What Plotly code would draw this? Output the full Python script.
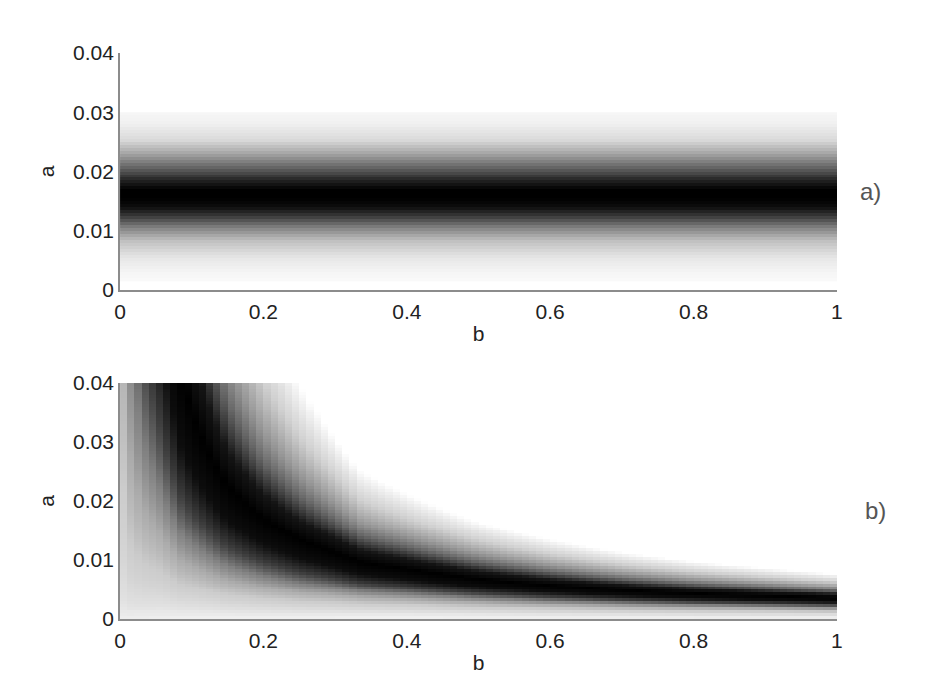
'''
    Two grayscale maps over (b, a): a flat band (a) and a curved ridge (b).
'''
import numpy as np
import plotly.graph_objects as go

# Panel a) : darkness (0 = white, 1 = black) read along a, same for every b
top_a = [0.0015, 0.003, 0.0056, 0.0084, 0.0106, 0.0123, 0.014, 0.0155,
         0.0169, 0.0186, 0.0208, 0.0231, 0.0253, 0.028, 0.030]
top_dark = [0.02, 0.04, 0.1, 0.25, 0.5, 0.75, 0.95, 1.0,
            1.0, 0.85, 0.6, 0.35, 0.15, 0.06, 0.03]

# Panel b) : ridge position (a) and relative spread read for some b values
ridge_b = [0.005, 0.015, 0.03, 0.055, 0.085, 0.1, 0.15, 0.2, 0.25, 0.3, 0.335,
           0.4, 0.5, 0.6, 0.7, 0.8, 0.9, 1.0]
ridge_a = [0.6, 0.22, 0.12, 0.073, 0.042, 0.035, 0.0225, 0.017, 0.0136, 0.0113,
           0.0097, 0.0085, 0.0068, 0.0057, 0.0049, 0.0043, 0.0039, 0.0035]
ridge_w = [3.0, 2.6, 2.3, 2.0, 1.8, 1.7, 1.55, 1.45, 1.38, 1.28, 1.22,
           1.17, 1.13, 1.1, 1.07, 1.05, 1.02, 1.0]

# cross section of the ridge: log(a / ridge_a) / ridge_w -> darkness
prof_off = [-3.0, -2.0, -1.5, -1.1, -0.8, -0.59, -0.4, -0.2, 0.0,
            0.15, 0.31, 0.42, 0.51, 0.6, 0.67, 0.74, 0.78]
prof_dark = [0.06, 0.09, 0.14, 0.2, 0.33, 0.5, 0.75, 0.95, 1.0,
             0.92, 0.6, 0.42, 0.3, 0.18, 0.12, 0.05, 0.0]

b_ticks = [0, 0.2, 0.4, 0.6, 0.8, 1]
b_labels = ['0', '0.2', '0.4', '0.6', '0.8', '1']
a_ticks = [0, 0.01, 0.02, 0.03, 0.04]
a_labels = ['0', '0.01', '0.02', '0.03', '0.04']

# cells of the images
b_cells = np.arange(0.005, 1.0, 0.01)
a_cells_top = np.arange(0.00175, 0.0300, 0.0005)
a_cells_bot = np.arange(0.00025, 0.0400, 0.0005)

z_top = np.tile(np.interp(a_cells_top, top_a, top_dark)[:, None], (1, len(b_cells)))

rc = np.exp(np.interp(b_cells, ridge_b, np.log(ridge_a)))
rw = np.interp(b_cells, ridge_b, ridge_w)
off = np.log(a_cells_bot[:, None] / rc[None, :]) / rw[None, :]
z_bot = np.interp(off, prof_off, prof_dark)

gray = [[0, 'white'], [1, 'black']]

fig = go.Figure()
fig.add_trace(go.Heatmap(x=b_cells, y=a_cells_top, z=z_top, colorscale=gray,
                         zmin=0, zmax=1, showscale=False,
                         xaxis='x', yaxis='y'))
fig.add_trace(go.Heatmap(x=b_cells, y=a_cells_bot, z=z_bot, colorscale=gray,
                         zmin=0, zmax=1, showscale=False,
                         xaxis='x2', yaxis='y2'))

tick_font = dict(family='Liberation Sans, Arial', size=21, color='#222222')
title_font = dict(family='Liberation Sans, Arial', size=21, color='#222222')
panel_font = dict(family='Liberation Sans, Arial', size=24, color='#555555')

# the page body adds 8 px around the figure, so domains are shifted by that
x_common = dict(range=[0, 1], domain=[0.1210, 0.8952], tickvals=b_ticks,
                ticktext=b_labels, showline=True, linecolor='#8c8c8c',
                linewidth=2, showgrid=False, zeroline=False, ticks='',
                ticklen=0, ticklabelstandoff=2, tickfont=tick_font,
                automargin=False,
                title=dict(text='b', font=title_font, standoff=4))
y_common = dict(range=[0, 0.04], tickvals=a_ticks, ticktext=a_labels,
                showline=True, linecolor='#8c8c8c', linewidth=2,
                showgrid=False, zeroline=False, ticks='', ticklen=0,
                automargin=False, ticklabelstandoff=0, tickfont=tick_font,
                title=dict(text='a', font=title_font, standoff=13))

fig.update_layout(
    width=926, height=698,
    margin=dict(l=0, r=0, t=0, b=0),
    paper_bgcolor='white', plot_bgcolor='white',
    xaxis=dict(x_common, anchor='y'),
    yaxis=dict(y_common, domain=[0.596, 0.9355], anchor='x'),
    xaxis2=dict(x_common, anchor='y2'),
    yaxis2=dict(y_common, domain=[0.1246, 0.4628], anchor='x2'),
    annotations=[
        dict(text='a)', x=862 / 926, y=1 - 184 / 698, xref='paper', yref='paper',
             xanchor='center', yanchor='middle', showarrow=False, font=panel_font),
        dict(text='b)', x=867 / 926, y=1 - 502 / 698, xref='paper', yref='paper',
             xanchor='center', yanchor='middle', showarrow=False, font=panel_font),
    ],
)

fig.write_html("out.html")
